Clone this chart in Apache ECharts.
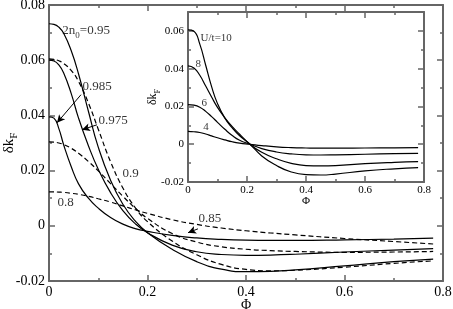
<!DOCTYPE html>
<html><head><meta charset="utf-8">
<script src="https://cdn.jsdelivr.net/npm/echarts@6/dist/echarts.min.js"></script>
<style>html,body{margin:0;padding:0;background:#fff}#c{width:453px;height:309px}</style>
</head><body><div id="c"></div>
<script>
// ---- main panel data ----
const phiMain = [0,0.01,0.02,0.03,0.045,0.06,0.08,0.1,0.125,0.15,0.175,0.2,0.25,0.3,0.35,0.4,0.45,0.5,0.6,0.7,0.78];
const n095 = [0.0732,0.0730,0.0720,0.0697,0.0635,0.0550,0.0415,0.0285,0.0165,0.0078,0.0018,-0.0025,-0.0085,-0.0130,-0.0157,-0.0166,-0.0165,-0.0160,-0.0145,-0.0130,-0.0121];
const n0975 = [0.0600,0.0597,0.0583,0.0553,0.0480,0.0390,0.0290,0.0205,0.0120,0.0055,0.0008,-0.0025,-0.0070,-0.0094,-0.0104,-0.0107,-0.0106,-0.0103,-0.0095,-0.0088,-0.0083];
const n0985 = [0.0395,0.0390,0.0352,0.0292,0.0215,0.0152,0.0100,0.0064,0.0030,0.0006,-0.0010,-0.0020,-0.0035,-0.0044,-0.0049,-0.0052,-0.0053,-0.0053,-0.0051,-0.0048,-0.0045];
const n090 = [0.0605,0.0603,0.0598,0.0588,0.0563,0.0523,0.0445,0.0350,0.0232,0.0137,0.0066,0.0015,-0.0055,-0.0105,-0.0140,-0.0158,-0.0163,-0.0161,-0.0150,-0.0136,-0.0127];
const n085 = [0.0304,0.0303,0.0300,0.0294,0.0281,0.0263,0.0233,0.0199,0.0153,0.0107,0.0064,0.0027,-0.0028,-0.0059,-0.0076,-0.0085,-0.0090,-0.0093,-0.0096,-0.0095,-0.0093];
const n080 = [0.0123,0.0123,0.0122,0.0121,0.0118,0.0114,0.0107,0.0098,0.0086,0.0072,0.0058,0.0045,0.0022,0.0005,-0.0008,-0.0018,-0.0026,-0.0033,-0.0046,-0.0057,-0.0066];
const mainXTicks = {min:0, max:0.8, interval:0.2};
const mainYTicks = {min:-0.02, max:0.08, interval:0.02};
// annotations (data coords)
const mainLabels = [
  [0.026, 0.0707, '2n{sub|0}=0.95'],
  [0.067, 0.0504, '0.985'],
  [0.0995, 0.0380, '0.975'],
  [0.148, 0.0188, '0.9'],
  [0.0162, 0.0083, '0.8'],
  [0.3025, 0.0025, '0.85']
];
const mainArrows = [
  [[0.065,0.0475],[0.0162,0.0373]],
  [[0.0975,0.0366],[0.067,0.0348]],
  [[0.3025,-0.0011],[0.2823,-0.0025]]
];
// ---- inset data ----
const phiInset = [0,0.02,0.04,0.06,0.08,0.1,0.125,0.15,0.175,0.21,0.25,0.3,0.35,0.4,0.45,0.5,0.6,0.7,0.78];
const U10 = [0.0605,0.0598,0.0530,0.0418,0.0305,0.0215,0.0138,0.0086,0.0045,0.0000,-0.0062,-0.0113,-0.0147,-0.0161,-0.0163,-0.0158,-0.0141,-0.0130,-0.0124];
const U8  = [0.0415,0.0404,0.0365,0.0308,0.0250,0.0195,0.0140,0.0093,0.0053,0.0000,-0.0043,-0.0077,-0.0101,-0.0113,-0.0115,-0.0113,-0.0103,-0.0096,-0.0092];
const U6  = [0.0210,0.0207,0.0196,0.0174,0.0146,0.0116,0.0079,0.0046,0.0021,0.0000,-0.0023,-0.0041,-0.0051,-0.0056,-0.0057,-0.0056,-0.0053,-0.0050,-0.0048];
const U4  = [0.0068,0.0066,0.0062,0.0054,0.0044,0.0034,0.0023,0.0013,0.0006,0.0000,-0.0007,-0.0014,-0.0018,-0.0020,-0.0021,-0.0021,-0.0020,-0.0019,-0.0018];
const insetXTicks = {min:0, max:0.8, interval:0.2};
const insetYTicks = {min:-0.02, max:0.07, interval:0.02};
const insetLabels = [
  [0.041, 0.0563, 'U/t=10'],
  [0.024, 0.0424, '8'],
  [0.044, 0.0216, '6'],
  [0.050, 0.0088, '4']
];

const FONT = 'Liberation Serif';
const AX = '#666';
function zip(xs, ys){ return xs.map((x,i)=>[x, ys[i]]); }

function axisCommon(opts){
  return Object.assign({
    type:'value',
    nameMoveOverlap:false,
    axisLine:{show:true, onZero:false, lineStyle:{color:AX, width:2}},
    axisTick:{show:true, inside:true, length:6, lineStyle:{color:AX, width:1.5}},
    minorTick:{show:true, splitNumber:2, length:3, lineStyle:{color:AX, width:1.5}},
    splitLine:{show:false},
    minorSplitLine:{show:false}
  }, opts);
}

const xAxes = [
  axisCommon(Object.assign({gridIndex:0, position:'bottom',
    axisLabel:{color:'#000', fontFamily:FONT, fontSize:14, margin:4},
    name:'Φ', nameLocation:'middle', nameGap:17, nameTextStyle:{color:'#000', fontFamily:FONT, fontSize:14}}, mainXTicks)),
  axisCommon(Object.assign({gridIndex:0, position:'top', axisLabel:{show:false}}, mainXTicks)),
  axisCommon(Object.assign({gridIndex:1, position:'bottom', z:20,
    axisLabel:{color:'#000', fontFamily:FONT, fontSize:11, margin:3},
    name:'Φ', nameLocation:'middle', nameGap:14, nameTextStyle:{color:'#000', fontFamily:FONT, fontSize:11}}, insetXTicks)),
  axisCommon(Object.assign({gridIndex:1, position:'top', z:20, axisLabel:{show:false}}, insetXTicks))
];
const subRich = function(fs){ return {
  b:{fontFamily:FONT, fontSize:fs, color:'#000', lineHeight:fs+6, verticalAlign:'middle'},
  sub:{fontFamily:FONT, fontSize:Math.round(fs*0.7), color:'#000', lineHeight:Math.round(fs*0.7), verticalAlign:'bottom'}
};};
const yAxes = [
  axisCommon(Object.assign({gridIndex:0, position:'left',
    axisLabel:{color:'#000', fontFamily:FONT, fontSize:14, margin:4},
    name:'{b|δk}{sub|F}', nameLocation:'middle', nameGap:29, nameRotate:90,
    nameTextStyle:{rich:subRich(15)}}, mainYTicks)),
  axisCommon(Object.assign({gridIndex:0, position:'right', axisLabel:{show:false}}, mainYTicks)),
  axisCommon(Object.assign({gridIndex:1, position:'left', z:20,
    axisLabel:{color:'#000', fontFamily:FONT, fontSize:11, margin:4, showMaxLabel:false},
    name:'{b|δk}{sub|F}', nameLocation:'middle', nameGap:26, nameRotate:90,
    nameTextStyle:{rich:subRich(12)}}, insetYTicks)),
  axisCommon(Object.assign({gridIndex:1, position:'right', z:20, axisLabel:{show:false}}, insetYTicks))
];

function lineSeries(data, dashed, xi, yi, z){
  return {type:'line', xAxisIndex:xi, yAxisIndex:yi, data:data, showSymbol:false, symbol:'none',
    smooth:0.5, z:z, silent:true, animation:false,
    lineStyle:{color:'#000', width:1.2, type: dashed ? [5,3] : 'solid'}};
}
function mainFmt(p){
  const s = p.name;
  if (s.indexOf('{') < 0) return '{b|' + s + '}';
  const i = s.indexOf('{'), j = s.indexOf('}');
  return '{b|' + s.slice(0,i) + '}' + s.slice(i, j+1) + '{b|' + s.slice(j+1) + '}';
}

const series = [
  lineSeries(zip(phiMain, n095), false, 0, 0, 2),
  lineSeries(zip(phiMain, n0975), false, 0, 0, 2),
  lineSeries(zip(phiMain, n0985), false, 0, 0, 2),
  lineSeries(zip(phiMain, n090), true, 0, 0, 2),
  lineSeries(zip(phiMain, n085), true, 0, 0, 2),
  lineSeries(zip(phiMain, n080), true, 0, 0, 2),
  {type:'scatter', xAxisIndex:0, yAxisIndex:0, z:3, silent:true, animation:false,
   symbolSize:1, itemStyle:{color:'rgba(0,0,0,0)'},
   data: mainLabels.map(d=>({value:[d[0], d[1]], name:d[2]})),
   label:{show:true, position:'right', distance:0, formatter:mainFmt, rich:subRich(13)},
   labelLayout:{hideOverlap:false},
   markLine:{silent:true, animation:false, symbol:['none','arrow'], symbolSize:[6,8],
     label:{show:false}, lineStyle:{color:'#000', width:1, type:'solid'},
     data: mainArrows.map(a=>[{coord:a[0]},{coord:a[1]}])}
  },
  lineSeries(zip(phiInset, U10), false, 2, 2, 30),
  lineSeries(zip(phiInset, U8), false, 2, 2, 30),
  lineSeries(zip(phiInset, U6), false, 2, 2, 30),
  lineSeries(zip(phiInset, U4), false, 2, 2, 30),
  {type:'scatter', xAxisIndex:2, yAxisIndex:2, z:31, silent:true, animation:false,
   symbolSize:1, itemStyle:{color:'rgba(0,0,0,0)'},
   data: insetLabels.map(d=>({value:[d[0], d[1]], name:d[2]})),
   labelLayout:{hideOverlap:false},
   label:{show:true, position:'right', distance:0, formatter:p=>p.name, color:'#000', fontFamily:FONT, fontSize:11}}
];

const chart = echarts.init(document.getElementById('c'), null, {renderer:'canvas'});
chart.setOption({
  animation:false,
  backgroundColor:'#fff',
  grid:[
    {left:49, right:10, top:5, bottom:28, containLabel:false, outerBoundsMode:'none'},
    {left:188, right:29, top:12, bottom:127, containLabel:false, outerBoundsMode:'none', show:true, backgroundColor:'#fff', borderWidth:0, z:10}
  ],
  xAxis:xAxes, yAxis:yAxes, series:series
});
</script></body></html>
